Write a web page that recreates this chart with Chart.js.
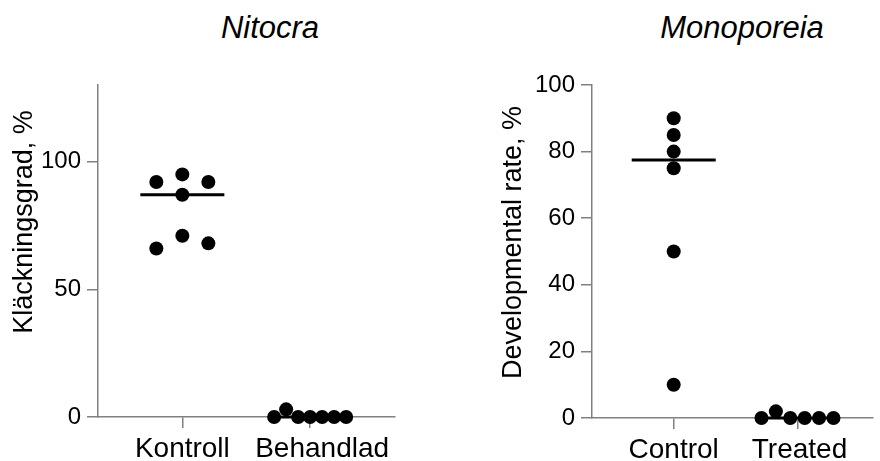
<!DOCTYPE html>
<html lang="sv">
<head>
    <meta charset="UTF-8">
    <title>Nitocra / Monoporeia</title>
    <script src="https://cdn.jsdelivr.net/npm/chart.js"></script>
    <style>
        body {
            margin: 0;
            background: #fff;
            font-family: "Liberation Sans", Arial, sans-serif;
        }
        .wrap {
            position: relative;
            width: 880px;
            height: 461px;
            overflow: hidden;
        }
        .wrap canvas {
            position: absolute;
            top: 0;
        }
        .title {
            position: absolute;
            top: 10px;
            font-size: 31px;
            font-style: italic;
            color: #000;
            white-space: nowrap;
            transform: translateX(-50%);
        }
    </style>
</head>
<body>
    <div class="wrap">
        <div class="title" style="left:270px">Nitocra</div>
        <div class="title" style="left:742px">Monoporeia</div>
        <canvas id="leftChart" width="440" height="461" style="left:0"></canvas>
        <canvas id="rightChart" width="440" height="461" style="left:440px"></canvas>
    </div>

    <script>
        // data
        const leftCategories = ['Kontroll', 'Behandlad'];
        const leftTitle = 'Kläckningsgrad, %';
        const leftKontroll = [95, 87, 71, 92, 92, 66, 68];
        const leftBehandlad = [0, 0, 0, 3, 0, 0, 0];
        const leftTicks = [0, 50, 100];

        const rightCategories = ['Control', 'Treated'];
        const rightTitle = 'Developmental rate, %';
        const rightControl = [90, 85, 80, 75, 50, 10];
        const rightTreated = [0, 0, 0, 2, 0, 0];
        const rightTicks = [0, 20, 40, 60, 80, 100];

        const FONT = '"Liberation Sans", Arial, sans-serif';
        const AXIS = '#808080';
        const DOT = 7;

        function median(arr) {
            const s = arr.slice().sort((a, b) => a - b);
            const m = Math.floor(s.length / 2);
            return s.length % 2 ? s[m] : (s[m - 1] + s[m]) / 2;
        }

        // rotated y title, drawn next to the axis
        const yTitlePlugin = {
            id: 'yTitle',
            beforeDraw(chart, args, opts) {
                // nudge category labels sideways where the original does
                const items = chart.scales.x.getLabelItems(chart.chartArea);
                items.forEach((it, i) => { it.options.translation[0] += opts.labelShift[i] || 0; });
            },
            afterDraw(chart, args, opts) {
                const { ctx, chartArea } = chart;
                ctx.save();
                ctx.translate(opts.x, (chartArea.top + chartArea.bottom) / 2 + opts.shift);
                ctx.rotate(-Math.PI / 2);
                ctx.font = '27px ' + FONT;
                ctx.fillStyle = '#000';
                ctx.textAlign = 'center';
                ctx.textBaseline = 'middle';
                ctx.fillText(opts.text, 0, 0);
                ctx.restore();
            }
        };

        // spread overlapping dots sideways, like a column scatter plot
        function swarm(chart, groups) {
            const xs = chart.scales.x, ys = chart.scales.y;
            const unit = xs.getPixelForValue(1) - xs.getPixelForValue(0);
            groups.forEach((vals, g) => {
                const placed = [];
                const order = [0, -1, 1, -2, 2, -3, 3, -4, 4];
                vals.forEach(v => {
                    const py = ys.getPixelForValue(v);
                    for (const s of order) {
                        const hit = placed.some(p => p.slot === s && Math.abs(p.py - py) < DOT * 2);
                        if (!hit) { placed.push({ slot: s, py: py, v: v }); break; }
                    }
                });
                const slots = placed.map(p => p.slot);
                const lo = Math.min(...slots), hi = Math.max(...slots);
                const span = hi - lo;
                const step = span > 0 ? Math.min(26, 72 / span) : 0;
                chart.data.datasets[g].data = placed.map(p => ({
                    x: g + (p.slot - (lo + hi) / 2) * step / unit,
                    y: p.v
                }));
                const half = 42 / unit;
                chart.data.datasets[g + groups.length].data = [
                    { x: g - half, y: median(vals) },
                    { x: g + half, y: median(vals) }
                ];
            });
            chart.update('none');
        }

        function makeChart(id, cats, groups, ticks, yMax, xMax, opt) {
            const dots = groups.map((vals, g) => ({
                data: vals.map(v => ({ x: g, y: v })),
                backgroundColor: '#000',
                borderWidth: 0,
                pointRadius: DOT,
                pointHoverRadius: DOT,
                clip: false
            }));
            const medians = groups.map((vals, g) => ({
                data: [{ x: g - 0.33, y: median(vals) }, { x: g + 0.33, y: median(vals) }],
                showLine: true,
                borderColor: '#000',
                borderWidth: 3,
                pointRadius: 0,
                clip: false
            }));
            const chart = new Chart(document.getElementById(id), {
                type: 'scatter',
                data: { datasets: dots.concat(medians) },
                options: {
                    responsive: false,
                    animation: false,
                    devicePixelRatio: 1,
                    layout: { padding: { top: 85, right: opt.padRight, left: 0, bottom: 0 } },
                    plugins: {
                        legend: { display: false },
                        tooltip: { enabled: false },
                        yTitle: { text: opt.title, x: opt.titleX, shift: opt.titleShift, labelShift: opt.labelShift }
                    },
                    scales: {
                        x: {
                            type: 'linear',
                            min: -0.66,
                            max: xMax,
                            afterBuildTicks: s => { s.ticks = cats.map((c, i) => ({ value: i })); },
                            afterFit: s => { s.height = opt.xHeight; },
                            ticks: {
                                callback: v => cats[v],
                                color: '#000',
                                font: { family: FONT, size: 28 },
                                padding: 4,
                                maxRotation: 0
                            },
                            grid: { drawOnChartArea: false, tickLength: 11, color: AXIS, lineWidth: 1.5 },
                            border: { color: AXIS, width: 1.5 }
                        },
                        y: {
                            min: 0,
                            max: yMax,
                            afterBuildTicks: s => { s.ticks = ticks.map(t => ({ value: t })); },
                            afterFit: s => { s.width = opt.yWidth; },
                            ticks: {
                                color: '#000',
                                font: { family: FONT, size: 24 },
                                padding: 6
                            },
                            grid: { drawOnChartArea: false, tickLength: 11, color: AXIS, lineWidth: 1.5 },
                            border: { color: AXIS, width: 1.5 }
                        }
                    }
                },
                plugins: [yTitlePlugin]
            });
            swarm(chart, groups);
            return chart;
        }

        makeChart('leftChart', leftCategories, [leftKontroll, leftBehandlad], leftTicks, 130, 1.664, {
            title: leftTitle, titleX: 25, titleShift: -29, yWidth: 98, xHeight: 44, padRight: 45, labelShift: [0, 12]
        });
        makeChart('rightChart', rightCategories, [rightControl, rightTreated], rightTicks, 100, 1.61, {
            title: rightTitle, titleX: 74, titleShift: -9, yWidth: 152, xHeight: 43, padRight: 0, labelShift: [0, 2]
        });
    </script>
</body>
</html>
